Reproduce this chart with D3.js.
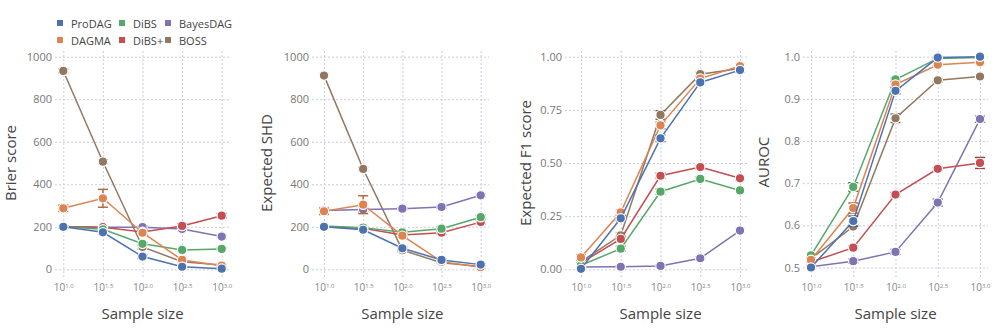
<!DOCTYPE html>
<html>
<head>
<meta charset="utf-8">
<script src="https://cdn.jsdelivr.net/npm/d3@7"></script>
<style>
  body { margin: 0; background: #fff; }
  svg { font-family: "Open Sans", sans-serif; }
</style>
</head>
<body>
<script>
// log10 of the sample size
const sizes = [1.0, 1.5, 2.0, 2.5, 3.0];
const methods = ["ProDAG", "DAGMA", "DiBS", "DiBS+", "BayesDAG", "BOSS"];
const colors = ["#4C72B0", "#DD8452", "#55A868", "#C44E52", "#8172B3", "#937860"];

// rows follow the methods order
const brierMean = [
  [200, 174, 60, 12, 3],
  [287, 334, 172, 44, 17],
  [200, 188, 120, 91, 96],
  [200, 198, 176, 204, 252],
  [200, 198, 198, 190, 154],
  [933, 506, 105, 36, 20]
];
const brierErr = [
  [5, 8, 8, 5, 3],
  [15, 42, 10, 8, 5],
  [4, 6, 8, 5, 5],
  [4, 5, 8, 10, 10],
  [3, 5, 5, 8, 6],
  [8, 8, 10, 5, 5]
];

const shdMean = [
  [200, 186, 99, 44, 22],
  [273, 304, 158, 36, 10],
  [204, 196, 174, 191, 245],
  [200, 193, 161, 172, 222],
  [277, 281, 285, 293, 348],
  [911, 472, 90, 31, 13]
];
const shdErr = [
  [5, 6, 8, 5, 5],
  [15, 42, 8, 8, 5],
  [5, 6, 8, 8, 8],
  [5, 5, 8, 8, 8],
  [5, 10, 5, 5, 6],
  [8, 8, 8, 5, 5]
];

const f1Mean = [
  [0.002, 0.240, 0.616, 0.879, 0.937],
  [0.056, 0.268, 0.677, 0.897, 0.956],
  [0.019, 0.097, 0.365, 0.425, 0.371],
  [0.030, 0.143, 0.440, 0.481, 0.428],
  [0.011, 0.012, 0.016, 0.052, 0.182],
  [0.036, 0.160, 0.726, 0.918, 0.945]
];
const f1Err = [
  [0.005, 0.012, 0.015, 0.008, 0.008],
  [0.012, 0.012, 0.015, 0.008, 0.008],
  [0.010, 0.012, 0.012, 0.008, 0.006],
  [0.010, 0.012, 0.012, 0.008, 0.008],
  [0.004, 0.004, 0.005, 0.006, 0.008],
  [0.010, 0.012, 0.020, 0.008, 0.006]
];

const aurocMean = [
  [0.500, 0.610, 0.919, 0.998, 1.000],
  [0.518, 0.641, 0.934, 0.981, 0.987],
  [0.529, 0.691, 0.946, 0.996, 0.998],
  [0.513, 0.547, 0.673, 0.734, 0.748],
  [0.502, 0.515, 0.537, 0.654, 0.852],
  [0.521, 0.597, 0.854, 0.944, 0.953]
];
const aurocErr = [
  [0.004, 0.012, 0.007, 0.002, 0.002],
  [0.005, 0.012, 0.006, 0.003, 0.003],
  [0.004, 0.010, 0.004, 0.002, 0.002],
  [0.004, 0.004, 0.005, 0.004, 0.013],
  [0.004, 0.005, 0.006, 0.008, 0.007],
  [0.006, 0.004, 0.010, 0.004, 0.003]
];

const w = 996, h = 329;
const plotTop = 50, plotBottom = 277;

// layout of the 4 panels (pixels)
const panels = [
  { title: "Brier score", mean: brierMean, err: brierErr, ticks: [0, 200, 400, 600, 800, 1000], fmt: d3.format("d"),
    yDom: [0, 1000], yRng: [269.3, 56.7], xRng: [63.3, 221.7], left: 55, right: 230, titleX: 10 },
  { title: "Expected SHD", mean: shdMean, err: shdErr, ticks: [0, 200, 400, 600, 800, 1000], fmt: d3.format("d"),
    yDom: [0, 1000], yRng: [269.3, 56.7], xRng: [324, 480.7], left: 312, right: 489, titleX: 266 },
  { title: "Expected F1 score", mean: f1Mean, err: f1Err, ticks: [0, 0.25, 0.5, 0.75, 1], fmt: d3.format(".2f"),
    yDom: [0, 1], yRng: [269.3, 56.7], xRng: [581, 740], left: 565, right: 748, titleX: 525 },
  { title: "AUROC", mean: aurocMean, err: aurocErr, ticks: [0.5, 0.6, 0.7, 0.8, 0.9, 1.0], fmt: d3.format(".1f"),
    yDom: [0.5, 1], yRng: [267.5, 56.7], xRng: [811, 980], left: 803, right: 988, titleX: 763 }
];

const svg = d3.select("body").append("svg")
  .attr("width", w)
  .attr("height", h);

panels.forEach(p => {
  const x = d3.scaleLinear().domain([1, 3]).range(p.xRng);
  const y = d3.scaleLinear().domain(p.yDom).range(p.yRng);
  const g = svg.append("g");

  // y axis + horizontal grid
  const yAxis = d3.axisLeft(y).tickValues(p.ticks).tickFormat(p.fmt)
    .tickSize(-(p.right - p.left)).tickPadding(3);
  const ya = g.append("g")
    .attr("transform", `translate(${p.left},0)`)
    .call(yAxis);

  // x axis + vertical grid
  const xAxis = d3.axisBottom(x).tickValues(sizes).tickFormat(d => "10")
    .tickSize(-(plotBottom - plotTop)).tickPadding(7);
  const xa = g.append("g")
    .attr("transform", `translate(0,${plotBottom})`)
    .call(xAxis);

  [ya, xa].forEach(a => {
    a.select(".domain").remove();
    a.selectAll(".tick line")
      .attr("stroke", "#cbcbe3")
      .attr("stroke-dasharray", "2,2");
    a.selectAll(".tick text")
      .attr("fill", "#777")
      .attr("font-size", "11px")
      .attr("font-family", "Open Sans, sans-serif");
  });

  xa.selectAll(".tick text")
    .attr("fill", "#888")
    .attr("font-size", "10px")
    .append("tspan")
    .attr("dy", "-0.5em")
    .attr("font-size", "6px")
    .text(d => d3.format(".1f")(d));

  // axis titles
  g.append("text")
    .attr("transform", `translate(${p.titleX},${(p.yRng[0] + p.yRng[1]) / 2}) rotate(-90)`)
    .attr("text-anchor", "middle")
    .attr("dominant-baseline", "central")
    .attr("fill", "#444")
    .attr("font-size", "15px")
    .text(p.title);

  g.append("text")
    .attr("x", (p.xRng[0] + p.xRng[1]) / 2)
    .attr("y", 319)
    .attr("text-anchor", "middle")
    .attr("fill", "#444")
    .attr("font-size", "15px")
    .text("Sample size");

  // series, drawn from last to first so ProDAG ends on top
  const order = d3.range(methods.length).reverse();
  order.forEach(i => {
    const pts = sizes.map((s, j) => ({ s: s, v: p.mean[i][j], e: p.err[i][j] }));
    const col = colors[i];
    const dark = d3.color(col).darker(0.6);

    g.append("path")
      .datum(pts)
      .attr("fill", "none")
      .attr("stroke", col)
      .attr("stroke-width", 1.5)
      .attr("d", d3.line().x(d => x(d.s)).y(d => y(d.v)));

    const eb = g.append("g").selectAll("g").data(pts).enter().append("g");
    eb.append("line")
      .attr("x1", d => x(d.s)).attr("x2", d => x(d.s))
      .attr("y1", d => y(d.v - d.e)).attr("y2", d => y(d.v + d.e))
      .attr("stroke", dark).attr("stroke-width", 1.5);
    [-1, 1].forEach(sg => {
      eb.append("line")
        .attr("x1", d => x(d.s) - 5).attr("x2", d => x(d.s) + 5)
        .attr("y1", d => y(d.v + sg * d.e)).attr("y2", d => y(d.v + sg * d.e))
        .attr("stroke", dark).attr("stroke-width", 1.5);
    });

    g.append("g").selectAll("circle")
      .data(pts)
      .enter()
      .append("circle")
      .attr("cx", d => x(d.s))
      .attr("cy", d => y(d.v))
      .attr("r", 4.7)
      .attr("fill", col)
      .attr("stroke", "#fff")
      .attr("stroke-width", 1.2);
  });
});

// legend (3 columns, filled column by column)
const legX = [57, 119, 165];
const legY = [23, 40];
const leg = svg.append("g");
methods.forEach((m, i) => {
  const cx = legX[Math.floor(i / 2)];
  const cy = legY[i % 2];
  leg.append("rect")
    .attr("x", cx).attr("y", cy - 3)
    .attr("width", 6).attr("height", 6)
    .attr("fill", colors[i]);
  leg.append("text")
    .attr("x", cx + 14).attr("y", cy)
    .attr("dominant-baseline", "central")
    .attr("fill", "#444")
    .attr("font-size", "11px")
    .text(m);
});
</script>
</body>
</html>
